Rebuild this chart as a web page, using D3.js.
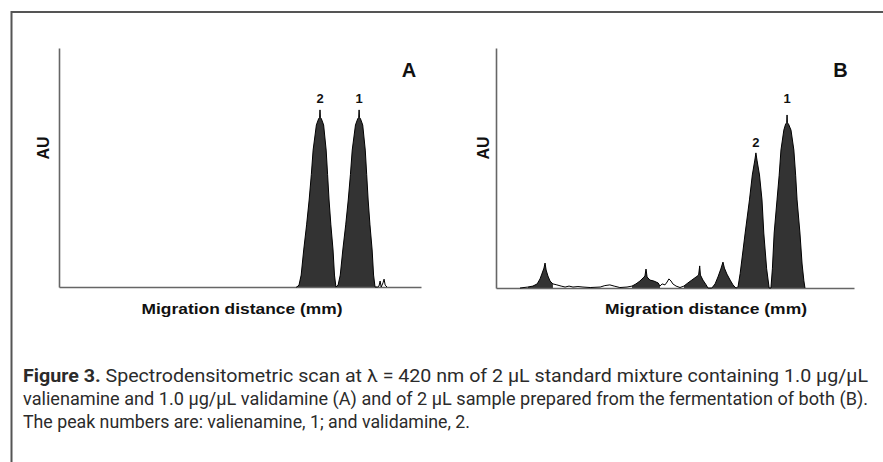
<!DOCTYPE html>
<html>
<head>
<meta charset="utf-8">
<script src="https://cdn.jsdelivr.net/npm/d3@7"></script>
<style>
  body { margin: 0; background: #fff; }
  svg { display: block; }
  .lbl { font-family: Arial, "Liberation Sans", sans-serif; font-weight: bold; fill: #111; }
  .cap { font-family: Roboto, "Noto Sans", sans-serif; fill: #2b2b2b; }
</style>
</head>
<body>
<div id="chart"></div>
<script>
// scan A: standard mixture, [migration distance, AU] (arbitrary 0-100 units)
const scanA = [
  [65.5, 0], [65.7, 0], [66.3, 0.8], [66.9, 5.0], [67.6, 15.5], [68.4, 26.0], [69.1, 36.4],
  [69.7, 47.0], [70.2, 57.3], [71.1, 67.8], [71.7, 70.3], [72.0, 71.0], [72.1, 74.1],
  [72.2, 71.0], [72.5, 70.3], [73.1, 67.8], [73.8, 57.3], [74.2, 47.0], [74.6, 36.4],
  [75.1, 26.0], [75.7, 15.5], [76.1, 5.0], [76.5, 0],
  [77.1, 0.8], [77.7, 5.0], [78.4, 15.5], [79.2, 26.0], [79.9, 36.4], [80.5, 47.0],
  [81.0, 57.3], [81.9, 67.8], [82.5, 70.3], [82.8, 71.0], [82.9, 74.1], [83.0, 71.0],
  [83.3, 70.3], [83.9, 67.8], [84.6, 57.3], [85.0, 47.0], [85.4, 36.4], [85.9, 26.0],
  [86.5, 15.5], [86.9, 5.0], [87.3, 0], [88.0, 0],
  [88.4, 0.4], [88.7, 2.5], [89.0, 0], [89.5, 1.7], [89.8, 3.3], [90.1, 0.8], [90.6, 0]
]

// scan B: fermentation sample
const scanB = [
  [6.7, 0], [8.9, 0.4], [10.3, 0.8], [11.5, 1.7], [12.3, 3.8], [12.8, 5.8], [13.4, 8.3],
  [13.7, 10.4], [14.0, 7.5], [14.5, 5.0], [15.1, 2.9], [15.9, 1.7], [17.0, 1.3], [18.2, 0.8],
  [19.3, 0.4], [20.4, 0.8], [21.5, 0.4], [22.9, 0.6], [24.3, 0.4], [26.3, 0.2], [29.1, 0.4],
  [30.4, 1.0], [31.8, 1.3], [33.0, 0.8], [34.6, 0.2], [36.6, 0.4], [38.0, 0.8], [39.1, 1.7],
  [40.2, 2.9], [41.1, 4.2], [41.6, 5.0], [41.9, 7.9], [42.2, 4.6], [43.0, 3.3], [44.1, 2.9],
  [45.3, 2.1], [45.8, 0.8], [46.4, 1.7], [47.2, 1.3], [47.8, 2.5], [48.3, 3.8], [48.9, 2.9],
  [49.4, 1.7], [50.3, 0.8], [51.4, 0.2], [52.5, 0.8], [53.6, 2.1], [54.7, 3.3], [55.9, 4.6],
  [56.6, 5.4], [56.9, 9.2], [57.1, 5.4], [57.8, 3.3], [58.7, 1.3], [59.2, 0], [60.3, 0],
  [61.2, 1.7], [62.0, 4.6], [62.8, 7.9], [63.4, 10.8], [63.8, 8.3], [64.5, 5.8], [65.4, 3.3],
  [66.2, 1.3], [67.0, 0], [67.6, 0.4], [68.2, 6.0], [69.6, 22.9], [70.8, 36.7], [71.6, 47.1],
  [72.3, 53.3], [72.6, 56.3], [72.9, 53.3], [73.6, 47.1], [74.3, 36.7], [74.8, 22.9],
  [75.6, 8.0], [76.3, 0], [76.8, 0],
  [77.2, 8.0], [77.7, 22.9], [78.5, 36.7], [79.1, 47.0], [79.6, 57.5], [80.4, 65.8],
  [80.9, 68.3], [81.2, 68.8], [81.3, 72.1], [81.4, 68.8], [81.7, 68.3], [82.4, 65.8],
  [83.2, 57.5], [83.7, 47.0], [84.1, 36.7], [84.9, 22.9], [85.5, 10.0], [86.0, 3.0], [86.3, 0]
]

// filled (integrated) stretches of each scan
const fillsA = [[65.5, 76.5], [76.5, 88.0]]
const fillsB = [[8.9, 15.9], [38.0, 45.8], [52.5, 59.2], [60.3, 67.0], [67.6, 76.3], [76.8, 86.3]]

// peak numbers: [label, x, y]
const peaksA = [["2", 72.1, 77.0], ["1", 82.9, 77.0]]
const peaksB = [["2", 72.6, 58.8], ["1", 81.3, 77.1]]

const xLabel = "Migration distance (mm)"
const yLabel = "AU"

const captionBold = "Figure 3."
const captionLines = [
  " Spectrodensitometric scan at λ = 420 nm of 2 µL standard mixture containing 1.0 µg/µL",
  "valienamine and 1.0 µg/µL validamine (A) and of 2 µL sample prepared from the fermentation of both (B).",
  "The peak numbers are: valienamine, 1; and validamine, 2."
]

const width = 883
const height = 462

const svg = d3
  .select("#chart")
  .append("svg")
  .attr("width", width)
  .attr("height", height)

// frame (top + left rule)
svg.append("path")
  .attr("d", "M11.5,462 V12 H883")
  .attr("fill", "none")
  .attr("stroke", "#555")
  .attr("stroke-width", 2)

const panels = [
  { name: "A", scan: scanA, fills: fillsA, peaks: peaksA, left: 59, right: 421, bottom: 287, top: 48, titleX: 409, auX: 49, labelX: 242, labelW: 201 },
  { name: "B", scan: scanB, fills: fillsB, peaks: peaksB, left: 496, right: 854, bottom: 288, top: 48, titleX: 840.5, auX: 489, labelX: 706, labelW: 202 },
]

panels.forEach(p => {
  const xScale = d3.scaleLinear().domain([0, 100]).range([p.left, p.right])
  const yScale = d3.scaleLinear().domain([0, 100]).range([p.bottom, p.top])

  const g = svg.append("g")

  // filled peaks
  const area = d3.area()
    .x(d => xScale(d[0]))
    .y0(yScale(0))
    .y1(d => yScale(d[1]))

  p.fills.forEach(([a, b]) => {
    const seg = p.scan.filter(d => d[0] >= a && d[0] <= b)
    g.append("path")
      .datum(seg)
      .attr("d", area)
      .attr("fill", "#333")
  })

  // axes, no ticks
  g.append("g")
    .attr("transform", `translate(0,${p.bottom})`)
    .call(d3.axisBottom(xScale).tickValues([]).tickSizeOuter(0))
    .call(s => s.select(".domain").attr("stroke", "#666").attr("stroke-width", 1.6))

  g.append("g")
    .attr("transform", `translate(${p.left},0)`)
    .call(d3.axisLeft(yScale).tickValues([]).tickSizeOuter(0))
    .call(s => s.select(".domain").attr("stroke", "#666").attr("stroke-width", 1.6))

  // trace outline
  const line = d3.line()
    .x(d => xScale(d[0]))
    .y(d => yScale(d[1]))

  g.append("path")
    .datum(p.scan)
    .attr("d", line)
    .attr("fill", "none")
    .attr("stroke", "#000")
    .attr("stroke-width", 1)
    .attr("stroke-linejoin", "round")

  // peak numbers
  g.selectAll(".peak")
    .data(p.peaks)
    .join("text")
    .attr("class", "lbl")
    .attr("x", d => xScale(d[1]))
    .attr("y", d => yScale(d[2]))
    .attr("text-anchor", "middle")
    .style("font-size", "13px")
    .text(d => d[0])

  // panel letter
  g.append("text")
    .attr("class", "lbl")
    .attr("x", p.titleX)
    .attr("y", 77)
    .attr("text-anchor", "middle")
    .style("font-size", "20px")
    .text(p.name)

  g.append("text")
    .attr("class", "lbl")
    .attr("x", p.labelX)
    .attr("y", 314)
    .attr("text-anchor", "middle")
    .attr("textLength", p.labelW)
    .attr("lengthAdjust", "spacingAndGlyphs")
    .style("font-size", "15px")
    .text(xLabel)

  g.append("text")
    .attr("class", "lbl")
    .attr("transform", `translate(${p.auX},148) rotate(-90)`)
    .attr("text-anchor", "middle")
    .style("font-size", "16px")
    .text(yLabel)
})

// caption, squeezed to the column width like a condensed face
const capX = 23
const capY = [382, 405, 428]
const capW = [845, 845, 447]

captionLines.forEach((t, i) => {
  const txt = svg.append("text")
    .attr("class", "cap")
    .attr("x", capX)
    .attr("y", capY[i])
    .style("font-size", "19px")
  if (capW[i]) txt.attr("textLength", capW[i]).attr("lengthAdjust", "spacingAndGlyphs")
  if (i === 0) {
    txt.append("tspan").style("font-weight", "bold").text(captionBold)
  }
  txt.append("tspan").text(t)
})
</script>
</body>
</html>
